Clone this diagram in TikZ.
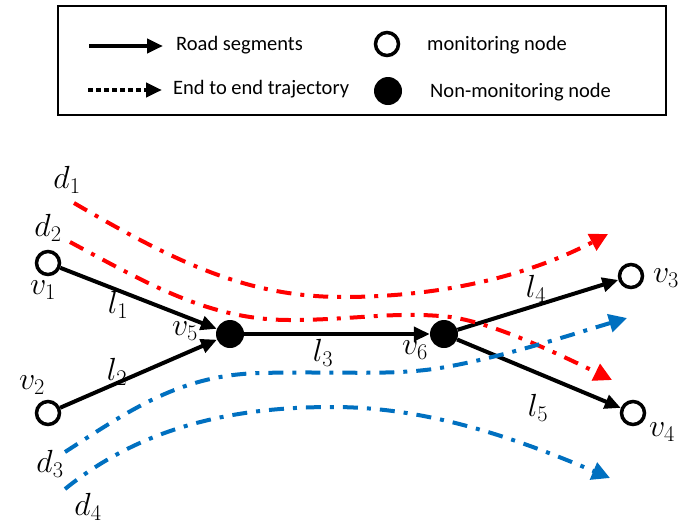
\RequirePackage{fix-cm}
\documentclass[tikz,border=0pt]{standalone}
\usepackage{fontspec}
\setmainfont{Carlito}
\usetikzlibrary{arrows.meta}
\definecolor{tred}{RGB}{255,0,0}
\definecolor{tblue}{RGB}{0,112,192}
\begin{document}
\begin{tikzpicture}[x=1pt,y=-1pt,
 mon/.style={circle,draw,line width=3.5pt,minimum size=23pt,inner sep=0pt,fill=white},
 nonmon/.style={circle,fill=black,minimum size=28pt,inner sep=0pt},
 road/.style={line width=4pt,-{Triangle[length=16pt,width=14pt]}},
 traj/.style={line width=4pt,dash pattern=on 15pt off 9pt on 4pt off 9pt,-{Triangle[length=18pt,width=18pt]}},
 lbl/.style={inner sep=0pt,font=\fontsize{32}{38}\selectfont},
 legtxt/.style={inner sep=0pt,anchor=west,font=\fontsize{20.5}{24}\selectfont}]
\useasboundingbox (0,0) rectangle (700,528);
% legend
\node (legend) [draw,line width=1.5pt,minimum width=608pt,minimum height=109pt,inner sep=0pt] at (362,60.5) {};
\coordinate (ra) at (89,46); \coordinate (rb) at (163,46);
\draw[road,line width=4.5pt] (ra) -- (rb);
\coordinate (da) at (88,90); \coordinate (db) at (162,90);
\draw[line width=4.5pt,dash pattern=on 5pt off 3pt,-{Triangle[length=16pt,width=14pt]}] (da) -- (db);
\node[legtxt] (t1) at (176,45) {Road segments};
\node[legtxt] (t2) at (173,89) {End to end trajectory};
\node[mon] (lm) at (387,44) {};
\node[nonmon] (ln) at (388,91) {};
\node[legtxt] (t3) at (427,45) {monitoring node};
\node[legtxt] (t4) at (430,92) {Non-monitoring node};
% nodes
\node[mon] (v1) at (48,263) {};
\node[mon] (v2) at (48,413) {};
\node[nonmon] (v5) at (230,334) {};
\node[nonmon] (v6) at (444,334) {};
\node[mon] (v3) at (631,276) {};
\node[mon] (v4) at (633,413) {};
% roads
\draw[road] (v1) -- (v5);
\draw[road] (v2) -- (v5);
\draw[road] (v5) -- (v6);
\draw[road] (v6) -- (v3);
\draw[road] (v6) -- (v4);
% labels
\node[lbl] (Lv1) at (43,290) {$v_1$};
\node[lbl] (Lv2) at (32,385) {$v_2$};
\node[lbl] (Lv3) at (666,278) {$v_3$};
\node[lbl] (Lv4) at (662,432) {$v_4$};
\node[lbl] (Lv5) at (185,331) {$v_5$};
\node[lbl] (Lv6) at (415,350) {$v_6$};
\node[lbl] (Ll1) at (118,305) {$l_1$};
\node[lbl] (Ll2) at (117,372) {$l_2$};
\node[lbl] (Ll3) at (323,353) {$l_3$};
\node[lbl] (Ll4) at (536,289) {$l_4$};
\node[lbl] (Ll5) at (538,408) {$l_5$};
\node[lbl] (Ld1) at (67,180) {$d_1$};
\node[lbl] (Ld2) at (48,228) {$d_2$};
\node[lbl] (Ld3) at (50,464) {$d_3$};
\node[lbl] (Ld4) at (88,507) {$d_4$};
% trajectories
\coordinate (d1s) at (74,203); \coordinate (d1e) at (608,234);
\coordinate (d2s) at (70,242); \coordinate (d2e) at (612,380);
\coordinate (d3s) at (65,452); \coordinate (d3e) at (627,318);
\coordinate (d4s) at (65,489); \coordinate (d4e) at (610,478);
\draw[traj,tred] (d1s) .. controls (180,265) and (250,297) .. (343,297) .. controls (430,297) and (520,280) .. (d1e);
\draw[traj,tred] (d2s) .. controls (150,285) and (210,320) .. (290,320) .. controls (350,320) and (390,312) .. (440,316) .. controls (480,318) and (540,345) .. (d2e);
\draw[traj,tblue] (d3s) .. controls (130,410) and (180,375) .. (260,373) .. controls (340,371) and (390,376) .. (440,368) .. controls (500,358) and (570,335) .. (d3e);
\draw[traj,tblue] (d4s) .. controls (150,420) and (250,407) .. (333,407) .. controls (430,407) and (520,440) .. (d4e);
\end{tikzpicture}
\end{document}
